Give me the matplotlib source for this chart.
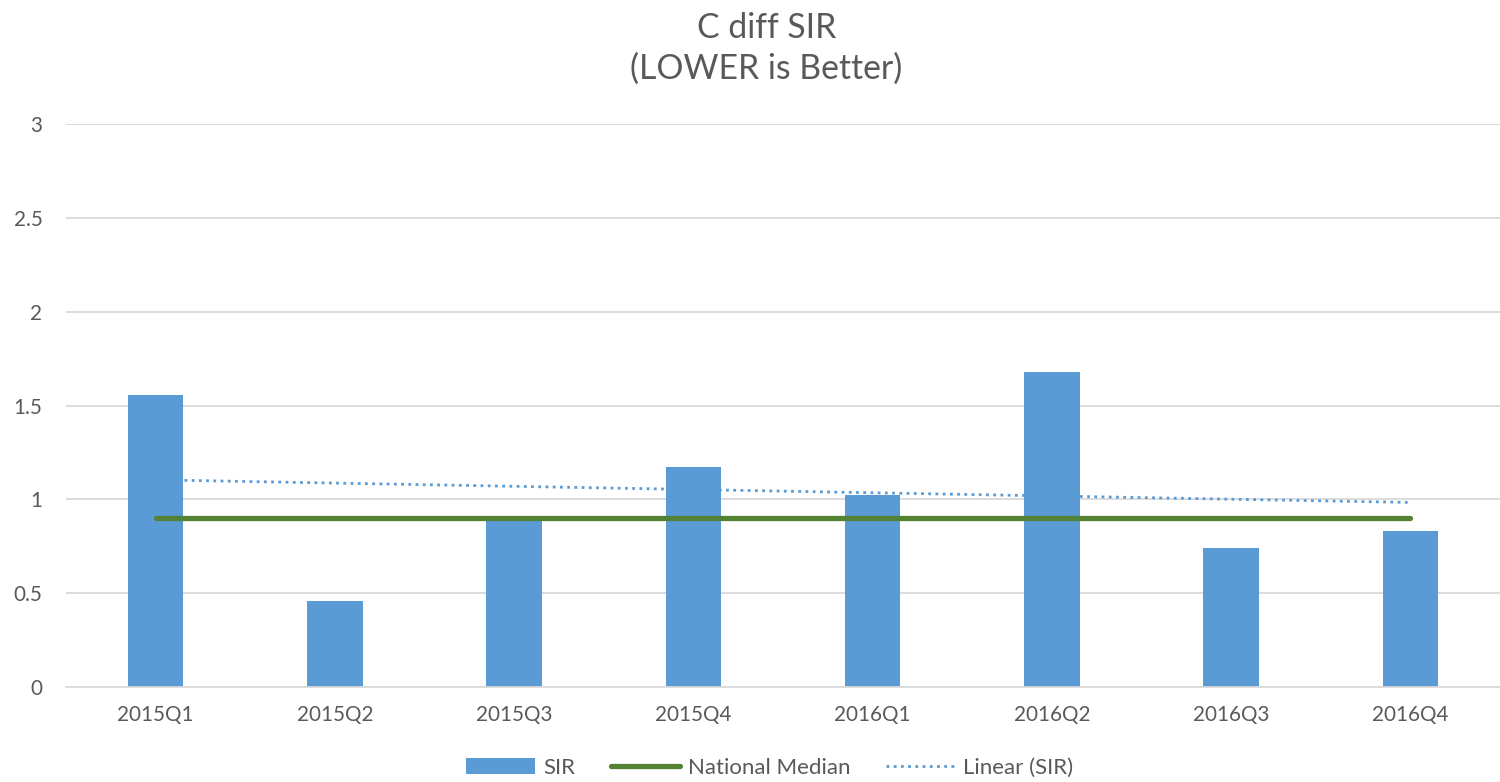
import matplotlib
matplotlib.use("Agg")
import matplotlib.pyplot as plt
import numpy as np

categories = ["2015Q1", "2015Q2", "2015Q3", "2015Q4", "2016Q1", "2016Q2", "2016Q3", "2016Q4"]
sir = [1.556, 0.458, 0.89, 1.172, 1.023, 1.678, 0.741, 0.831]
national_median = [0.9] * 8
yticks = [0, 0.5, 1, 1.5, 2, 2.5, 3]
ytick_labels = ["0", "0.5", "1", "1.5", "2", "2.5", "3"]

plt.rcParams['font.family'] = ['Lato', 'DejaVu Sans']
text_color = "#595959"
bar_color = "#5B9BD5"
green = "#548235"

fig = plt.figure(figsize=(15, 7.82), dpi=100)
ax = fig.add_axes([0.044, 0.1215, 0.956, 0.7199])

x = np.arange(len(categories))
h_bar = ax.bar(x, sir, width=0.31, color=bar_color, zorder=2, label="SIR")
h_med, = ax.plot(x, national_median, color=green, lw=3.8, solid_capstyle="round", zorder=3, label="National Median")
coef = np.polyfit(x, sir, 1)
h_lin, = ax.plot(x, np.polyval(coef, x), color=bar_color, lw=2, linestyle=(0, (1, 1.6)), zorder=4, label="Linear (SIR)")

ax.set_xlim(-0.5, len(categories) - 0.5)
ax.set_ylim(0, 3)
ax.set_yticks(yticks)
ax.set_yticklabels(ytick_labels)
ax.set_xticks(x)
ax.set_xticklabels(categories)
ax.yaxis.grid(True, color="#D9D9D9", lw=1.3, zorder=0)
ax.set_axisbelow(True)
for s in ["top", "right", "left"]:
    ax.spines[s].set_visible(False)
ax.spines["bottom"].set_color("#D9D9D9")
ax.spines["bottom"].set_linewidth(1.3)
ax.tick_params(axis="both", length=0, colors=text_color, labelsize=14.9)
ax.tick_params(axis="y", pad=17)
ax.tick_params(axis="x", pad=13)

fig.text(0.511, 0.938, "C diff SIR\n(LOWER is Better)", ha="center", va="center",
         fontsize=24.3, color=text_color, linespacing=1.32)

leg = fig.legend([h_bar, h_med, h_lin], ["SIR", "National Median", "Linear (SIR)"],
                 loc="center", bbox_to_anchor=(0.513, 0.018), ncol=3,
                 frameon=False, fontsize=16, handlelength=3.1, columnspacing=1.6,
                 handletextpad=0.36, borderpad=0)
for t in leg.get_texts():
    t.set_color(text_color)

fig.savefig("out.png", dpi=100)
